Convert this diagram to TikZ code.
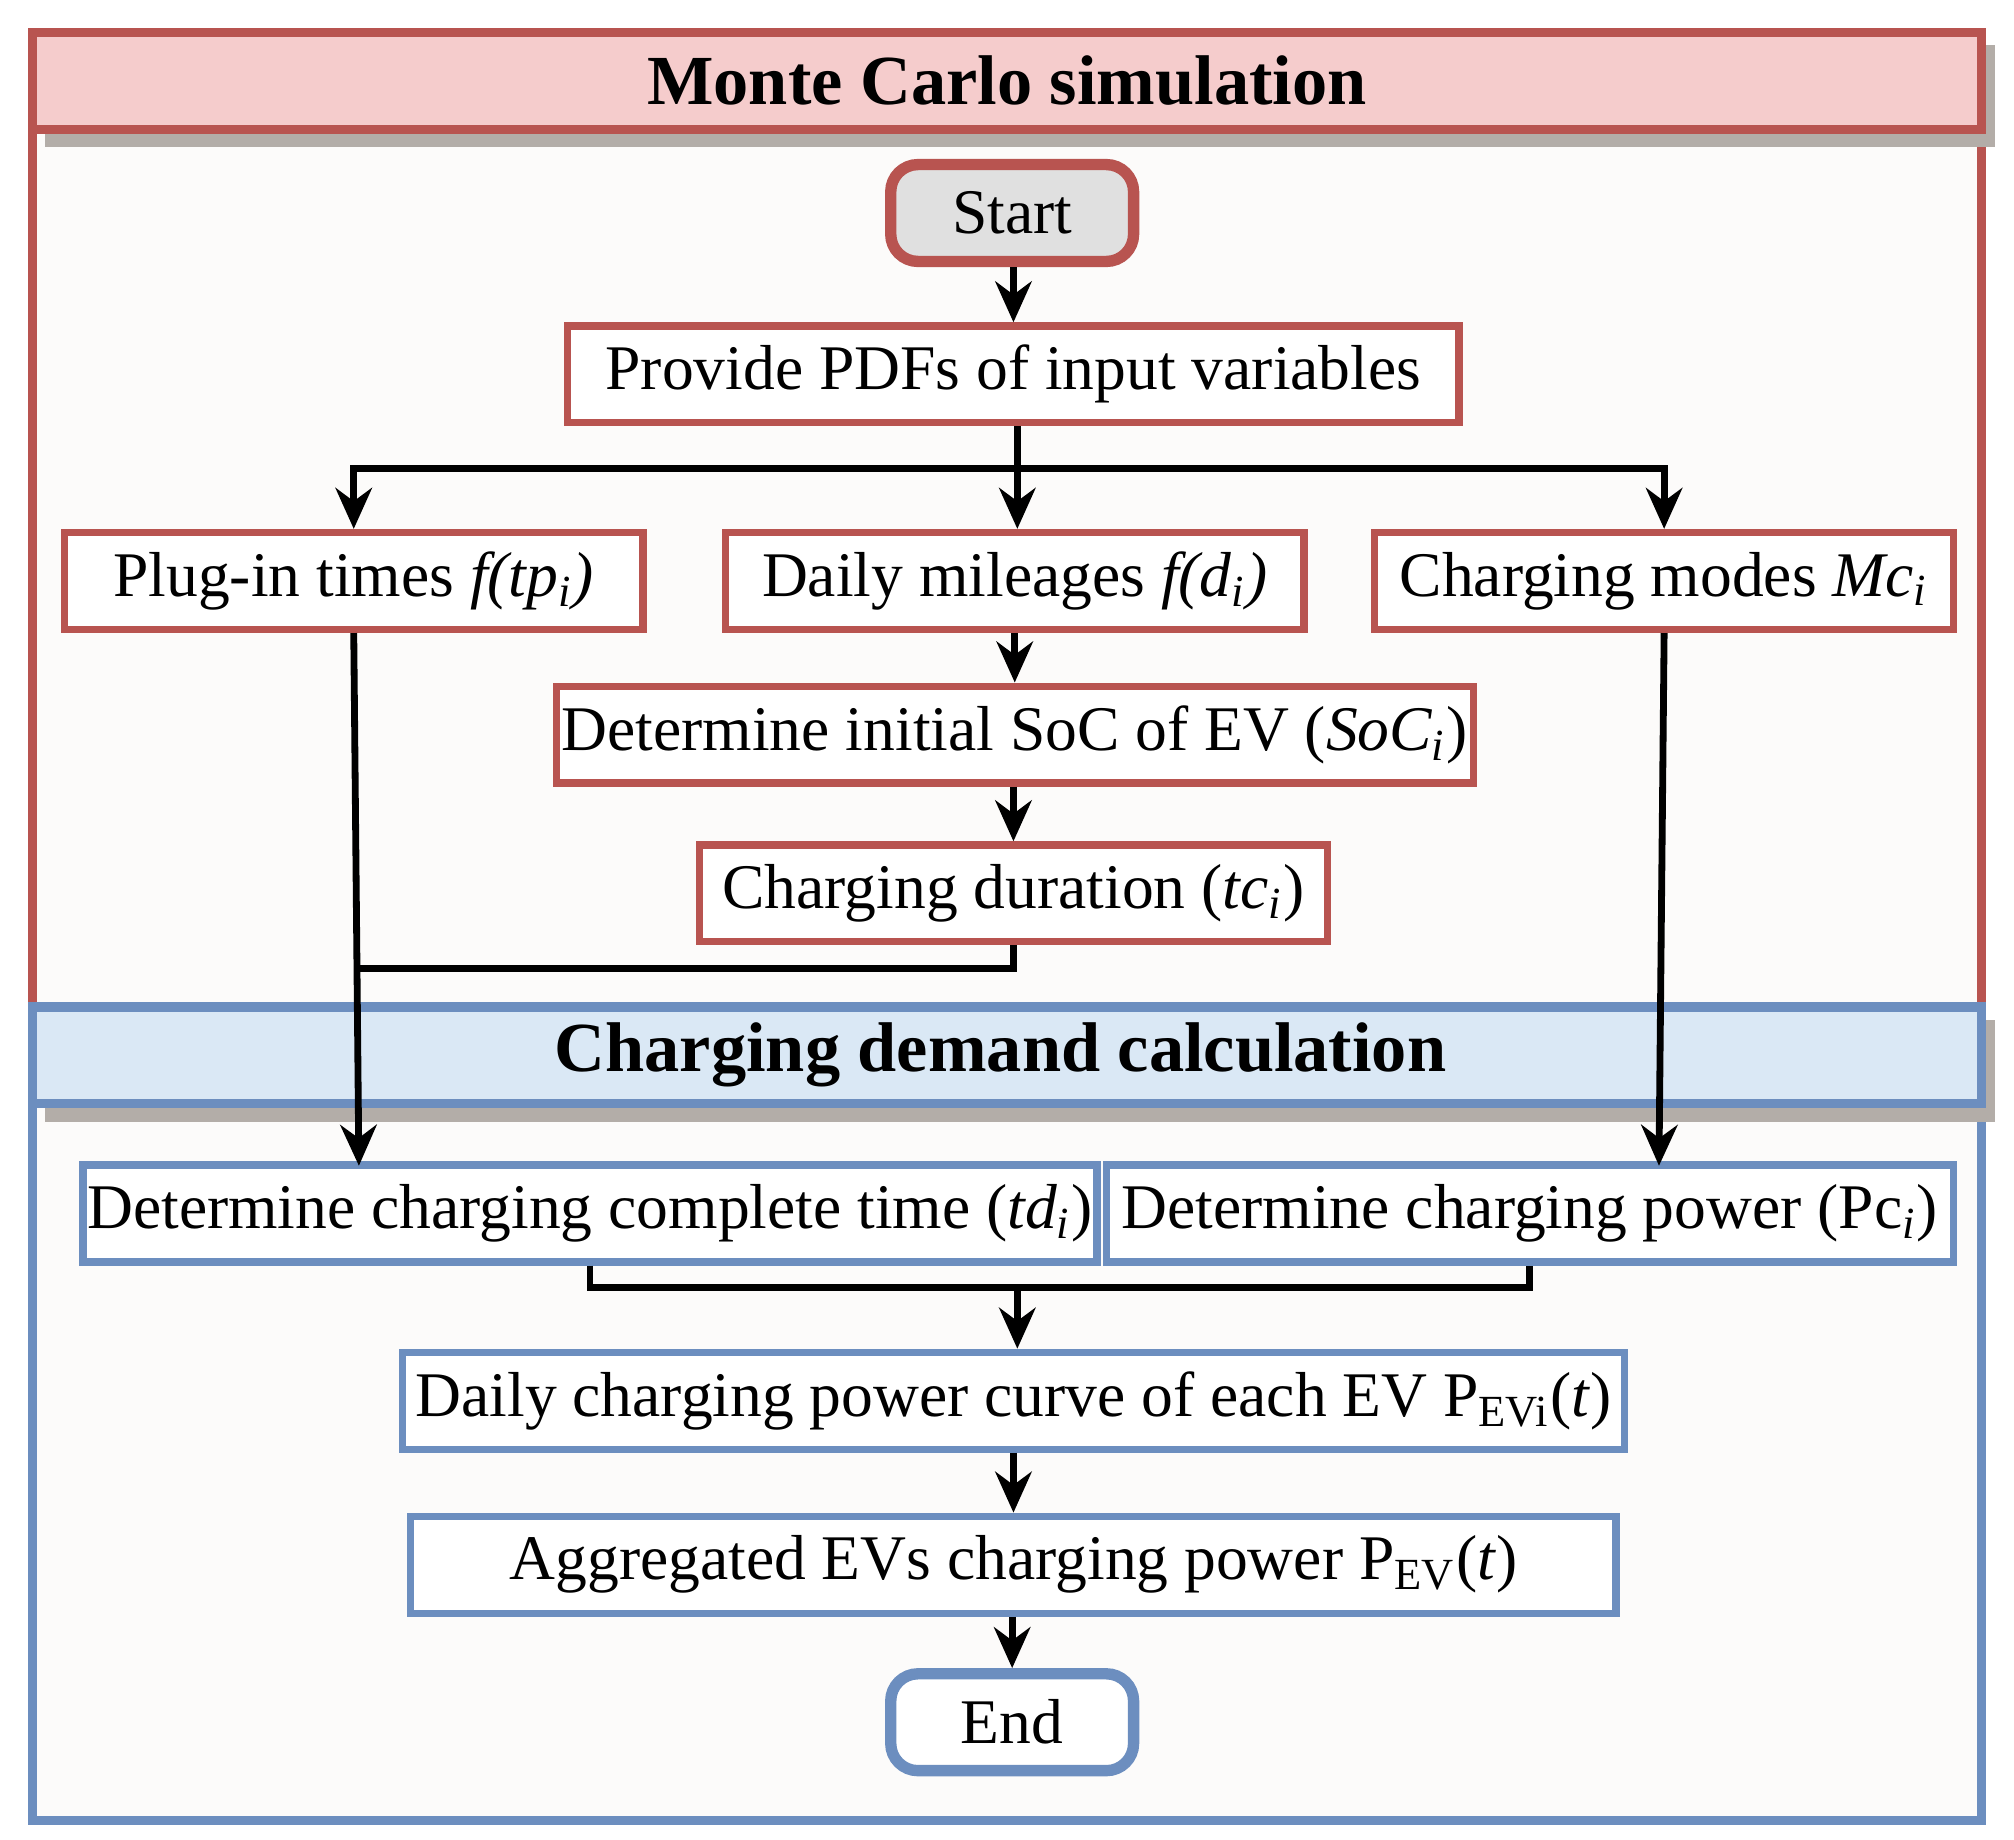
\documentclass[tikz,border=0pt]{standalone}
\usepackage{fontspec}
\setmainfont{Liberation Serif}
\usetikzlibrary{arrows.meta}
\definecolor{mcred}{HTML}{B85450}
\definecolor{mcpink}{HTML}{F5CCCC}
\definecolor{cdblue}{HTML}{6C8EBF}
\definecolor{cdlight}{HTML}{DAE8F5}
\definecolor{bodyfill}{HTML}{FCFBFA}
\definecolor{shadowgray}{HTML}{B3ADA8}
\tikzset{
  redbox/.style={draw=mcred,line width=1.6pt,fill=white,minimum height=0.75cm,inner sep=0pt,font=\fontsize{14}{16}\selectfont},
  bluebox/.style={draw=cdblue,line width=1.6pt,fill=white,minimum height=0.75cm,inner sep=0pt,font=\fontsize{14}{16}\selectfont},
  flow/.style={line width=1.5pt,-{Stealth[length=9pt,width=8pt]}},
  link/.style={line width=1.5pt},
}
\begin{document}
\begin{tikzpicture}[x=0.01cm,y=-0.01cm]
\useasboundingbox (0,0) rectangle (1560,1425);

%monte carlo frame
\draw[mcred,line width=2pt,fill=bodyfill] (25,25) rectangle (1535,780);
\fill[shadowgray] (35,35) rectangle (1545,114);
\draw[mcred,line width=2pt,fill=mcpink] (25,25) rectangle (1535,100);
\node[font=\fontsize{15.5}{18}\selectfont\bfseries] (mctitle) at (780,62) {Monte Carlo simulation};

%charging demand frame
\draw[cdblue,line width=2pt,fill=bodyfill] (25,780) rectangle (1535,1410);
\fill[shadowgray] (35,790) rectangle (1545,869);
\draw[cdblue,line width=2pt,fill=cdlight] (25,780) rectangle (1535,855);
\node[font=\fontsize{15.5}{18}\selectfont\bfseries] (cdtitle) at (775,817) {Charging demand calculation};

%start
\node[redbox,line width=2.5pt,rounded corners=6pt,fill=black!12,minimum width=1.88cm] (start) at (784,165) {Start};
%pdfs
\node[redbox,minimum width=6.9cm] (pdfs) at (785,290) {Provide PDFs of input variables};
%inputs
\node[redbox,minimum width=4.48cm] (plugin) at (274,450) {Plug-in times \textit{f(tp\textsubscript{i})}};
\node[redbox,minimum width=4.48cm] (mileage) at (786,450) {Daily mileages \textit{f(d\textsubscript{i})}};
\node[redbox,minimum width=4.48cm] (modes) at (1289,450) {Charging modes \textit{Mc\textsubscript{i}}};
%soc
\node[redbox,minimum width=7.1cm] (soc) at (786,569) {Determine initial SoC of EV (\textit{SoC\textsubscript{i}})};
%duration
\node[redbox,minimum width=4.86cm] (duration) at (785,692) {Charging duration (\textit{tc\textsubscript{i}})};
%complete time and power
\node[bluebox,minimum width=7.85cm] (complete) at (457,940) {Determine charging complete time (\textit{td\textsubscript{i}})};
\node[bluebox,minimum width=6.56cm] (power) at (1185,940) {Determine charging power (Pc\textsubscript{\textit{i}})};
%curves
\node[bluebox,minimum width=9.46cm] (curve) at (785,1085) {Daily charging power curve of each EV P\textsubscript{EVi}(\textit{t})};
\node[bluebox,minimum width=9.33cm] (aggregate) at (785,1212) {Aggregated EVs charging power P\textsubscript{EV}(\textit{t})};
%end
\node[bluebox,line width=2.5pt,rounded corners=6pt,minimum width=1.88cm] (end) at (784,1334) {End};

%connectors
\coordinate (split) at (788,363);
\coordinate (merge) at (788,997);
\draw[flow] (start.south -| pdfs.north) -- (pdfs.north);
\draw[link] (pdfs.south -| split) -- (split);
\draw[flow] (split) -| (plugin.north);
\draw[flow] (split) -- (split |- mileage.north);
\draw[flow] (split) -| (modes.north);
\draw[flow] (mileage.south -| soc.north) -- (soc.north);
\draw[flow] (soc.south -| duration.north) -- (duration.north);
\draw[link] (duration.south) -- ++(0,18) -| (278,748);
\draw[flow] (plugin.south) -- (278,903);
\draw[flow] (modes.south) -- (1285,903);
\draw[link] (complete.south) |- (merge) -| (power.south);
\draw[flow] (merge) -- (merge |- curve.north);
\draw[flow] (curve.south -| aggregate.north) -- (aggregate.north);
\draw[flow] (aggregate.south -| end.north) -- (end.north);

\end{tikzpicture}
\end{document}
